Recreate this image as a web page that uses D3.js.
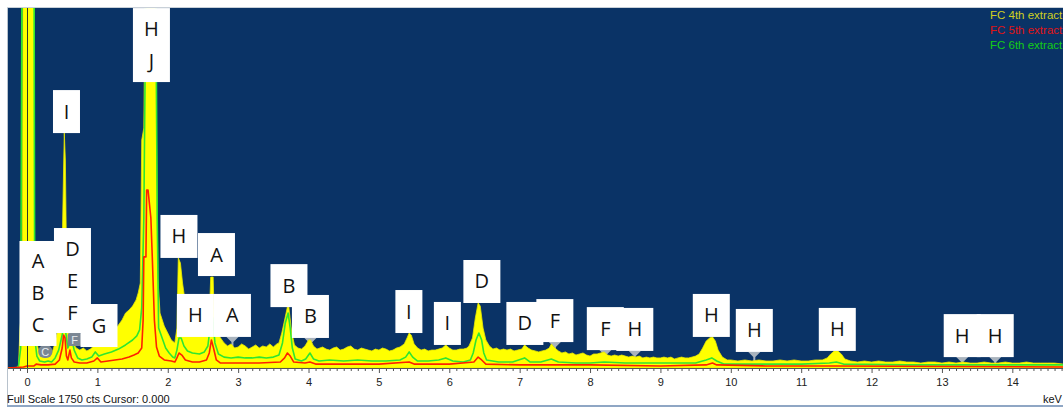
<!DOCTYPE html>
<html><head><meta charset="utf-8">
<script src="https://cdn.jsdelivr.net/npm/d3@7"></script>
<style>
html,body{margin:0;padding:0;background:#fff;}
svg{display:block;}
</style></head>
<body>
<svg id="chart" width="1063" height="408"></svg>
<script>
// ---------------- data ----------------
const seriesNames = ["FC 4th extract", "FC 5th extract", "FC 6th extract"];
const fullScale = 1750;               // cts
const energyDomain = [-0.27, 14.72];  // keV
const majorTicks = d3.range(0, 15, 1);
const minorTicks = d3.range(-2, 148).map(i => i / 10).filter(v => Math.abs(v - Math.round(v)) > 1e-6);

// FC 4th extract  [keV, cts]
const fc4 = [[-0.27,0],[-0.15,0],[-0.12,10],[-0.10,194],[-0.07,292],[-0.05,3000],[0.09,3000],[0.11,292],[0.14,122],[0.18,63],[0.22,58],[0.26,68],[0.30,58],[0.35,68],[0.40,122],[0.44,194],[0.47,292],[0.50,583],[0.52,972],[0.53,1142],[0.545,1011],[0.56,583],[0.58,292],[0.61,219],[0.65,122],[0.70,97],[0.75,87],[0.80,97],[0.85,83],[0.90,92],[0.95,107],[1.00,136],[1.05,117],[1.10,136],[1.15,156],[1.20,175],[1.25,185],[1.30,209],[1.35,233],[1.40,267],[1.45,282],[1.50,301],[1.55,331],[1.58,365],[1.61,413],[1.63,1108],[1.66,1167],[1.68,1900],[1.72,2600],[1.76,2800],[1.80,2600],[1.82,1900],[1.84,1108],[1.86,437],[1.89,267],[1.95,204],[2.00,170],[2.05,136],[2.10,122],[2.13,194],[2.15,535],[2.18,510],[2.21,413],[2.25,316],[2.30,219],[2.35,185],[2.40,170],[2.45,160],[2.50,165],[2.55,185],[2.59,243],[2.61,442],[2.645,442],[2.66,243],[2.70,170],[2.75,146],[2.80,122],[2.85,107],[2.90,117],[2.95,97],[3.00,102],[3.05,117],[3.10,107],[3.15,92],[3.20,102],[3.25,112],[3.30,97],[3.35,107],[3.40,102],[3.45,117],[3.50,102],[3.55,117],[3.58,122],[3.62,170],[3.66,233],[3.70,297],[3.72,297],[3.76,175],[3.80,112],[3.85,97],[3.90,92],[3.95,107],[4.00,136],[4.03,136],[4.07,107],[4.12,92],[4.20,102],[4.25,92],[4.30,87],[4.35,97],[4.40,102],[4.45,87],[4.50,92],[4.55,102],[4.60,107],[4.65,92],[4.70,87],[4.75,97],[4.80,92],[4.85,87],[4.90,83],[4.95,92],[5.00,87],[5.05,97],[5.10,92],[5.15,83],[5.20,87],[5.25,97],[5.30,102],[5.36,117],[5.40,146],[5.43,170],[5.46,160],[5.50,117],[5.55,97],[5.60,87],[5.65,92],[5.70,83],[5.75,87],[5.80,87],[5.85,92],[5.90,97],[5.95,112],[6.00,97],[6.05,87],[6.10,87],[6.15,92],[6.20,92],[6.25,97],[6.28,107],[6.33,146],[6.37,243],[6.41,316],[6.44,301],[6.48,194],[6.52,136],[6.57,107],[6.62,92],[6.67,97],[6.72,87],[6.77,92],[6.82,87],[6.87,92],[6.92,83],[6.97,87],[7.03,92],[7.07,112],[7.12,97],[7.17,87],[7.22,83],[7.27,78],[7.32,83],[7.37,87],[7.42,97],[7.45,117],[7.50,97],[7.55,83],[7.60,73],[7.65,78],[7.70,68],[7.75,73],[7.80,63],[7.85,68],[7.90,73],[7.95,63],[8.00,58],[8.05,68],[8.10,68],[8.15,73],[8.20,78],[8.25,63],[8.30,58],[8.35,63],[8.40,58],[8.45,63],[8.50,58],[8.55,53],[8.60,58],[8.65,53],[8.70,58],[8.75,49],[8.80,53],[8.85,49],[8.90,53],[8.95,49],[9.00,49],[9.05,53],[9.10,49],[9.15,53],[9.20,44],[9.25,49],[9.30,53],[9.35,49],[9.40,49],[9.45,53],[9.50,58],[9.55,68],[9.60,97],[9.65,131],[9.70,146],[9.74,151],[9.78,131],[9.82,87],[9.88,53],[9.95,39],[10.0,39],[10.1,34],[10.2,39],[10.3,34],[10.4,39],[10.5,34],[10.6,34],[10.7,39],[10.8,34],[10.9,39],[11.0,34],[11.1,34],[11.2,39],[11.3,39],[11.37,49],[11.42,68],[11.47,83],[11.52,83],[11.57,68],[11.62,44],[11.7,34],[11.8,29],[11.9,34],[12.0,29],[12.1,34],[12.2,29],[12.3,29],[12.4,34],[12.5,29],[12.6,29],[12.7,24],[12.8,29],[12.9,29],[13.0,24],[13.1,29],[13.2,24],[13.3,29],[13.4,24],[13.5,24],[13.6,29],[13.7,24],[13.8,24],[13.9,29],[14.0,24],[14.1,24],[14.2,29],[14.3,24],[14.4,24],[14.5,24],[14.6,24],[14.72,19]];

// FC 5th extract  [keV, cts]
const fc5 = [[-0.27,0],[-0.05,5],[0.0,10],[0.10,10],[0.13,19],[0.20,15],[0.30,15],[0.40,19],[0.46,39],[0.50,97],[0.52,160],[0.54,146],[0.56,58],[0.58,39],[0.61,87],[0.63,49],[0.67,29],[0.75,24],[0.85,24],[0.95,34],[1.00,49],[1.05,29],[1.15,34],[1.25,39],[1.35,44],[1.45,53],[1.52,63],[1.58,73],[1.63,97],[1.65,233],[1.66,540],[1.69,540],[1.70,865],[1.72,865],[1.76,729],[1.78,540],[1.81,233],[1.84,102],[1.88,58],[1.95,39],[2.05,34],[2.10,29],[2.13,49],[2.16,73],[2.20,63],[2.25,39],[2.35,29],[2.45,29],[2.55,39],[2.59,73],[2.62,136],[2.65,97],[2.69,39],[2.75,24],[3.00,24],[3.30,24],[3.60,29],[3.66,49],[3.70,73],[3.74,58],[3.79,29],[3.95,24],[4.02,29],[4.10,19],[4.50,19],[5.00,19],[5.43,29],[5.50,19],[6.00,19],[6.35,29],[6.41,53],[6.46,39],[6.52,19],[7.00,15],[8.00,15],[9.00,10],[9.65,15],[9.74,24],[9.80,15],[10.5,10],[11.5,10],[14.72,5]];

// FC 6th extract  [keV, cts]
const fc6 = [[-0.27,0],[-0.15,0],[-0.12,10],[-0.09,97],[-0.06,3000],[0.095,3000],[0.11,146],[0.14,58],[0.18,34],[0.25,29],[0.30,34],[0.35,29],[0.40,49],[0.45,87],[0.49,146],[0.52,194],[0.54,204],[0.56,146],[0.58,97],[0.61,122],[0.64,136],[0.67,87],[0.72,49],[0.78,39],[0.85,44],[0.92,53],[0.97,78],[1.02,58],[1.10,68],[1.20,78],[1.30,92],[1.40,112],[1.50,136],[1.56,156],[1.60,185],[1.63,292],[1.66,729],[1.69,1900],[1.72,2400],[1.76,2600],[1.80,2400],[1.83,1900],[1.85,729],[1.87,194],[1.92,146],[1.97,97],[2.02,73],[2.07,53],[2.10,49],[2.13,87],[2.16,146],[2.19,146],[2.23,107],[2.28,83],[2.35,73],[2.45,68],[2.52,78],[2.57,107],[2.61,219],[2.64,243],[2.67,122],[2.72,68],[2.80,53],[2.90,49],[3.00,53],[3.10,49],[3.20,49],[3.30,53],[3.40,49],[3.50,53],[3.58,63],[3.63,122],[3.67,219],[3.71,267],[3.74,194],[3.77,97],[3.81,44],[3.90,34],[3.96,44],[4.02,73],[4.07,44],[4.15,34],[4.30,39],[4.50,34],[4.70,39],[4.90,34],[5.10,34],[5.30,39],[5.38,53],[5.43,78],[5.48,53],[5.55,34],[5.70,34],[5.85,39],[5.95,49],[6.05,34],[6.20,29],[6.30,39],[6.34,73],[6.38,136],[6.42,170],[6.46,136],[6.49,73],[6.53,39],[6.70,29],[6.90,29],[7.07,49],[7.15,29],[7.30,29],[7.45,44],[7.55,29],[7.80,24],[8.00,24],[8.20,29],[8.50,24],[9.00,24],[9.50,24],[9.65,39],[9.73,49],[9.80,34],[9.90,19],[10.5,19],[11.0,19],[11.4,24],[11.5,29],[11.6,19],[12.5,15],[13.5,15],[14.72,15]];

// peak labels: lines of text, energy of box centre, count level of box bottom
const labelTexts = ["ABC","DEF","G","I","HJ","H","A","H","A","B","B","I","I","D","D","F","F","H","H","H","H","H","H"];
const labelKeV   = [0.156,0.646,1.023,0.561,1.768,2.159,2.692,2.393,2.919,3.722,4.027,5.426,5.973,6.463,7.074,7.50,8.217,8.636,9.723,10.334,11.513,13.288,13.757];
const labelCts   = [107,170,102,1142,1390,535,447,151,151,296,146,170,112,316,112,126,87,83,151,78,83,53,53];

// element markers (grey)
const markerTexts = ["C","F"];
const markerKeV = [0.26,0.677];
const markerCts = [78,136];

// ---------------- drawing ----------------
const svg = d3.select("#chart");
const W = 1063, H = 408;
const plot = {left: 8, right: 1063, top: 8, bottom: 368};

const x = d3.scaleLinear().domain(energyDomain).range([plot.left, plot.right]);
const y = d3.scaleLinear().domain([0, fullScale]).range([plot.bottom, plot.top]);

// outer frame
svg.append("rect").attr("x", 0).attr("y", 0).attr("width", W).attr("height", H).attr("fill", "#fff");
svg.append("line").attr("x1", 7.5).attr("x2", 7.5).attr("y1", 7).attr("y2", 406).attr("stroke", "#b8c2cc");
svg.append("line").attr("x1", 7).attr("x2", W).attr("y1", 7.5).attr("y2", 7.5).attr("stroke", "#c8d0d8");
svg.append("rect").attr("x", 7).attr("y", 405).attr("width", W - 7).attr("height", 2).attr("fill", "#8fa6c4");

// plot background
svg.append("rect").attr("x", plot.left).attr("y", plot.top)
  .attr("width", plot.right - plot.left).attr("height", plot.bottom - plot.top)
  .attr("fill", "#0a3366");

svg.append("defs").append("clipPath").attr("id", "clip")
  .append("rect").attr("x", plot.left).attr("y", plot.top)
  .attr("width", plot.right - plot.left).attr("height", plot.bottom - plot.top);

const g = svg.append("g").attr("clip-path", "url(#clip)");

// highest 4th-extract reading near a given energy
function spec4Max(k, win) {
  const pts = fc4.filter(d => Math.abs(d[0] - k) <= win);
  return pts.length ? d3.max(pts, d => d[1]) : 0;
}

// label pointers (under the spectrum, only where the peak stays below the box)
const boxW = t => t === "I" ? 27 : 37;
const boxH = t => 12 + 31 * t.length;
labelTexts.forEach((t, i) => {
  const cx = x(labelKeV[i]), by = y(labelCts[i]);
  if (y(spec4Max(labelKeV[i], 0.06)) - by < 1.5) return;
  g.append("path")
    .attr("d", `M${cx - 6},${by} L${cx + 6},${by} L${cx + 1},${by + 5} L${cx + 1},${by + 9} L${cx - 1},${by + 9} L${cx - 1},${by + 5} Z`)
    .attr("fill", "#a9b3bd");
});

// spectrum
const area = d3.area().x(d => x(d[0])).y0(y(0)).y1(d => y(d[1]));
const line = d3.line().x(d => x(d[0])).y(d => y(d[1]));
g.append("path").datum(fc4).attr("d", area).attr("fill", "#ffff00")
  .attr("stroke", "#e8e800").attr("stroke-width", 0.8);
g.append("path").datum(fc6).attr("d", line).attr("fill", "none")
  .attr("stroke", "#2fe62f").attr("stroke-width", 1.6).attr("stroke-linejoin", "round");
g.append("path").datum(fc5).attr("d", line).attr("fill", "none")
  .attr("stroke", "#ff2200").attr("stroke-width", 1.6).attr("stroke-linejoin", "round");

// cursor line at 0.000
g.append("line").attr("x1", Math.round(x(0)) + 0.5).attr("x2", Math.round(x(0)) + 0.5)
  .attr("y1", plot.top).attr("y2", plot.bottom).attr("stroke", "#2b3a2b").attr("stroke-width", 1);

// element markers
markerTexts.forEach((t, i) => {
  const cx = x(markerKeV[i]), cy = y(markerCts[i]);
  g.append("rect").attr("x", cx - 7).attr("y", cy - 7).attr("width", 14).attr("height", 13)
    .attr("rx", t === "C" ? 6 : 2).attr("fill", "#7b8794");
  g.append("text").attr("x", cx).attr("y", cy + 4).attr("text-anchor", "middle")
    .attr("font-family", "Liberation Sans, Arial, sans-serif").attr("font-size", 11)
    .attr("fill", "#e8ecf0").text(t);
});

// label boxes
labelTexts.forEach((t, i) => {
  const cx = x(labelKeV[i]), by = y(labelCts[i]);
  const w = boxW(t), h = boxH(t);
  g.append("rect").attr("x", cx - w / 2).attr("y", by - h).attr("width", w).attr("height", h)
    .attr("fill", "#ffffff");
  const lines = t.split("");
  const midY = by - h / 2;
  lines.forEach((ch, j) => {
    const cy = midY + (j - (lines.length - 1) / 2) * 32;
    g.append("text").attr("x", cx).attr("y", cy + 7).attr("text-anchor", "middle")
      .attr("font-family", "Open Sans, Noto Sans, sans-serif").attr("font-size", 20)
      .attr("fill", "#111").text(ch);
  });
});

// legend
const legendColors = ["#cfcf1e", "#e01414", "#14cc14"];
seriesNames.forEach((n, i) => {
  g.append("text").attr("x", 990).attr("y", 19 + i * 15)
    .attr("font-family", "Liberation Sans, Arial, sans-serif").attr("font-size", 11.5)
    .attr("fill", legendColors[i]).text(n);
});

// x axis
const axG = svg.append("g").attr("transform", `translate(0,${plot.bottom})`);
axG.call(d3.axisBottom(x).tickValues(minorTicks).tickSize(3).tickSizeOuter(0).tickFormat(""));
axG.call(g2 => g2.selectAll(".domain").remove());
const axM = svg.append("g").attr("transform", `translate(0,${plot.bottom})`);
axM.call(d3.axisBottom(x).tickValues(majorTicks).tickSize(5).tickSizeOuter(0).tickPadding(5).tickFormat(d3.format("d")));
axM.select(".domain").remove();
svg.selectAll(".tick line").attr("stroke", "#555");
axM.selectAll("text").attr("font-family", "Liberation Sans, Arial, sans-serif").attr("font-size", 11).attr("fill", "#222");
svg.append("line").attr("x1", plot.left).attr("x2", plot.right).attr("y1", plot.bottom + 0.5).attr("y2", plot.bottom + 0.5)
  .attr("stroke", "#555");

// footer texts
svg.append("text").attr("x", 7).attr("y", 403)
  .attr("font-family", "Liberation Sans, Arial, sans-serif").attr("font-size", 11).attr("fill", "#111")
  .text("Full Scale " + fullScale + " cts Cursor: 0.000");
svg.append("text").attr("x", 1043).attr("y", 403)
  .attr("font-family", "Liberation Sans, Arial, sans-serif").attr("font-size", 11).attr("fill", "#111")
  .text("keV");
</script>
</body></html>
